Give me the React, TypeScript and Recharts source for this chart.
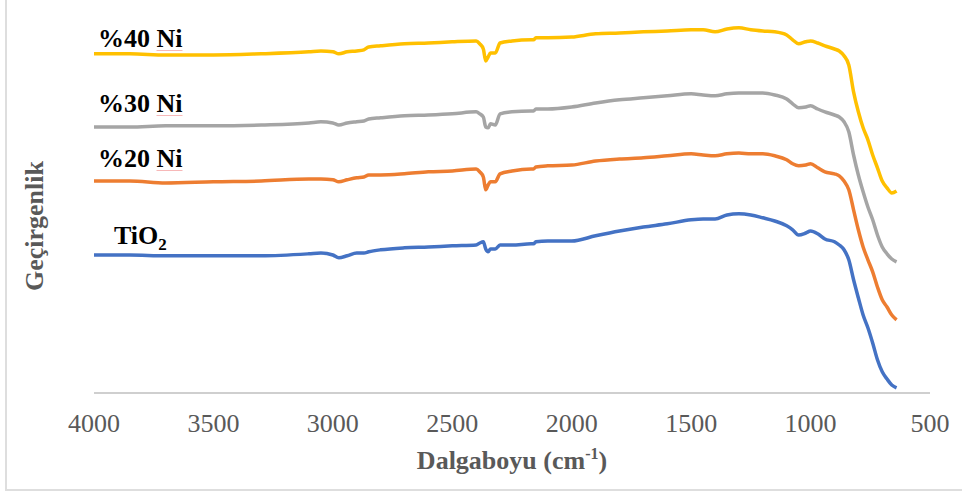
import { LineChart, Line, XAxis, YAxis } from "recharts";

// wavenumber grid (cm-1), shared by the four spectra
const wavenumbers = [
  4000, 3850, 3700, 3500, 3300, 3100, 3050, 3000, 2975, 2940, 2900, 2870, 2850,
  2800, 2700, 2600, 2500, 2400, 2385, 2370, 2360, 2350, 2340, 2320, 2300, 2250,
  2170, 2160, 2150, 2100, 2000, 1900, 1800, 1700, 1600, 1500, 1450, 1400, 1350,
  1300, 1250, 1200, 1150, 1100, 1075, 1050, 1020, 1000, 970, 940, 900, 880, 860,
  840, 820, 800, 780, 760, 740, 720, 700, 680, 660, 640,
];

const tio2 = [
  34.5, 34.5, 34.3, 34.3, 34.3, 34.8, 35.0, 34.5, 33.8, 34.3, 35.0, 35.0, 35.3,
  35.8, 36.3, 36.5, 36.8, 37.0, 37.5, 37.8, 36.0, 35.3, 36.0, 36.0, 37.0, 37.0,
  37.3, 37.3, 37.8, 38.0, 38.0, 39.3, 40.5, 41.5, 42.3, 43.3, 43.5, 43.5, 44.5,
  44.8, 44.5, 43.8, 43.0, 41.8, 40.8, 39.5, 40.0, 40.5, 39.8, 38.5, 37.8, 37.0,
  35.8, 33.3, 28.3, 23.8, 19.5, 16.3, 12.5, 8.3, 5.3, 3.5, 2.0, 1.3,
];

const ni20 = [
  53.0, 53.0, 52.5, 52.8, 53.0, 53.5, 53.5, 53.3, 52.8, 53.3, 53.8, 54.0, 54.5,
  54.5, 54.8, 55.3, 55.5, 56.0, 55.3, 54.0, 50.8, 52.0, 52.8, 52.8, 54.8, 55.5,
  56.0, 56.0, 56.5, 56.8, 57.0, 58.0, 58.5, 58.8, 59.3, 59.8, 59.5, 59.3, 59.8,
  60.0, 59.8, 59.8, 59.3, 58.3, 57.3, 56.8, 57.0, 57.3, 56.3, 55.3, 54.8, 54.3,
  53.0, 50.8, 45.8, 40.8, 36.5, 33.3, 30.3, 26.5, 23.3, 21.5, 19.5, 18.3,
];

const ni30 = [
  66.5, 66.5, 66.8, 66.8, 67.0, 67.5, 67.8, 67.5, 67.0, 67.5, 67.8, 68.0, 68.5,
  68.8, 69.3, 69.5, 69.8, 70.3, 69.8, 69.0, 66.5, 66.3, 67.3, 67.0, 69.8, 70.3,
  70.5, 70.5, 71.0, 71.0, 71.5, 72.5, 73.3, 73.8, 74.3, 74.8, 74.5, 74.3, 74.8,
  75.0, 75.0, 75.0, 74.5, 73.5, 72.3, 71.3, 71.5, 71.8, 71.0, 70.3, 69.5, 69.0,
  67.8, 65.3, 59.5, 54.5, 50.3, 46.5, 43.3, 39.5, 36.5, 34.8, 33.5, 32.8,
];

const ni40 = [
  84.8, 84.8, 84.5, 84.5, 84.8, 85.3, 85.5, 85.3, 84.8, 85.3, 85.5, 85.8, 86.5,
  86.8, 87.3, 87.5, 87.8, 88.0, 87.3, 86.0, 83.0, 84.0, 85.0, 85.0, 87.5, 88.0,
  88.3, 88.3, 88.8, 88.8, 89.0, 89.8, 90.0, 90.3, 90.5, 90.8, 90.8, 90.3, 91.0,
  91.3, 90.8, 90.5, 90.3, 89.5, 88.3, 87.3, 87.8, 88.0, 87.5, 86.8, 86.0, 85.5,
  84.3, 82.0, 75.3, 70.3, 66.3, 63.3, 59.5, 56.3, 53.0, 51.3, 50.0, 50.5,
];

const xTicks = [4000, 3500, 3000, 2500, 2000, 1500, 1000, 500];

const data = wavenumbers.map((w, i) => ({
  w,
  tio2: tio2[i],
  ni20: ni20[i],
  ni30: ni30[i],
  ni40: ni40[i],
}));

const serif = "Liberation Serif, Times New Roman, serif";

const seriesLabel = {
  position: "absolute" as const,
  fontFamily: serif,
  fontWeight: 700,
  fontSize: 26,
  lineHeight: 1,
  color: "#000",
  whiteSpace: "nowrap" as const,
};

const ni = {
  textDecoration: "underline",
  textDecorationColor: "#f7b8b8",
  textDecorationThickness: "1px",
  textUnderlineOffset: "3px",
};

const Tick = (props: any) => {
  const { x, y, payload } = props;
  return (
    <text
      x={x}
      y={y}
      dy={18}
      textAnchor="middle"
      fill="#595959"
      fontSize={26}
      fontFamily={serif}
    >
      {payload.value}
    </text>
  );
};

export default function App() {
  return (
    <div
      style={{
        position: "absolute",
        left: 0,
        top: 0,
        width: 962,
        height: 493,
        background: "#fff",
        overflow: "hidden",
      }}
    >
      <div
        style={{
          position: "absolute",
          left: 5,
          top: 0,
          width: 957,
          height: 491,
          boxSizing: "border-box",
          borderLeft: "2px solid #dedede",
          borderBottom: "2px solid #dedede",
        }}
      />
      <LineChart
        width={962}
        height={493}
        data={data}
        margin={{ top: 13, right: 32, bottom: 40, left: 94 }}
        style={{ position: "absolute", left: 0, top: 0 }}
      >
        <XAxis
          dataKey="w"
          type="number"
          domain={[500, 4000]}
          reversed
          ticks={xTicks}
          interval={0}
          height={60}
          tickLine={false}
          tickMargin={15}
          axisLine={{ stroke: "#bfbfbf", strokeWidth: 1.5 }}
          tick={<Tick />}
        />
        <YAxis hide domain={[0, 95]} />
        <Line type="monotone" dataKey="tio2" stroke="#4472c4" strokeWidth={3.5} dot={false} isAnimationActive={false} />
        <Line type="monotone" dataKey="ni20" stroke="#ed7d31" strokeWidth={3.5} dot={false} isAnimationActive={false} />
        <Line type="monotone" dataKey="ni30" stroke="#a5a5a5" strokeWidth={3.5} dot={false} isAnimationActive={false} />
        <Line type="monotone" dataKey="ni40" stroke="#ffc000" strokeWidth={3.5} dot={false} isAnimationActive={false} />
      </LineChart>

      <div style={{ ...seriesLabel, left: 98, top: 26 }}>
        %40 <span style={ni}>Ni</span>
      </div>
      <div style={{ ...seriesLabel, left: 98, top: 91 }}>
        %30 <span style={ni}>Ni</span>
      </div>
      <div style={{ ...seriesLabel, left: 98, top: 146 }}>
        %20 <span style={ni}>Ni</span>
      </div>
      <div style={{ ...seriesLabel, left: 114, top: 223 }}>
        TiO
        <span style={{ fontSize: 17, position: "relative", top: 6 }}>2</span>
      </div>

      <div
        style={{
          position: "absolute",
          left: 35,
          top: 226,
          transform: "translate(-50%, -50%) rotate(-90deg)",
          fontFamily: serif,
          fontWeight: 700,
          fontSize: 26,
          lineHeight: 1,
          color: "#595959",
          whiteSpace: "nowrap",
        }}
      >
        Geçirgenlik
      </div>

      <div
        style={{
          position: "absolute",
          left: 512,
          top: 448,
          transform: "translateX(-50%)",
          fontFamily: serif,
          fontWeight: 700,
          fontSize: 26,
          lineHeight: 1,
          color: "#595959",
          whiteSpace: "nowrap",
        }}
      >
        Dalgaboyu (cm
        <span style={{ fontSize: 16, position: "relative", top: -10 }}>-1</span>)
      </div>
    </div>
  );
}
